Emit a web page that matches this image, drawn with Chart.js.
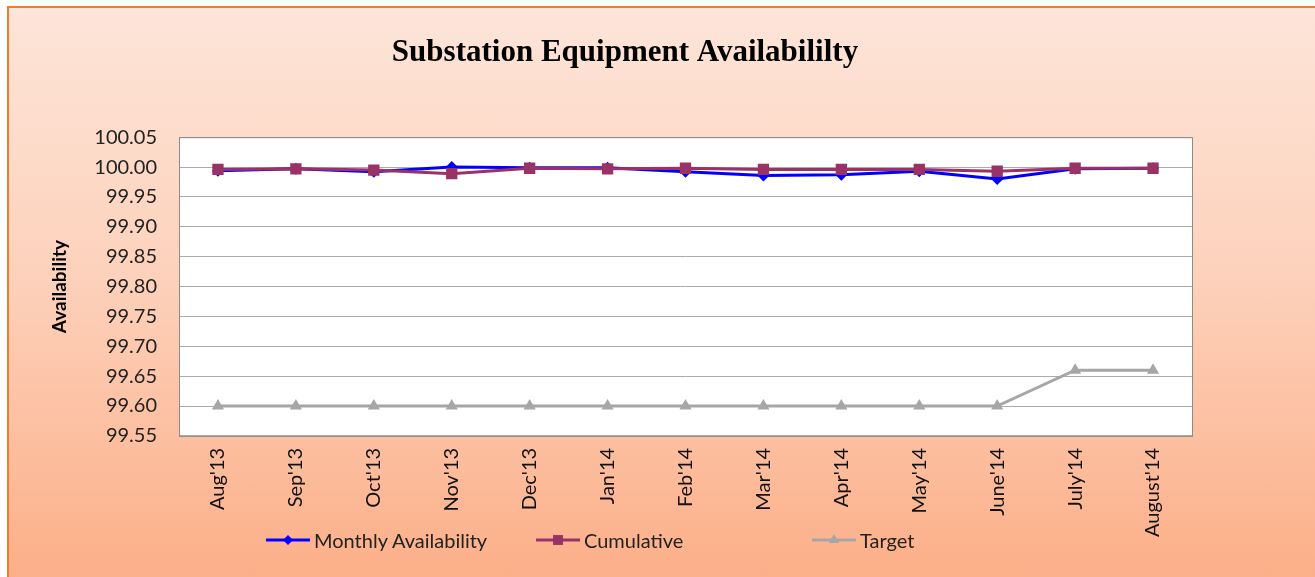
<!DOCTYPE html>
<html lang="en">
<head>
<meta charset="UTF-8">
<title>Substation Equipment Availability</title>
<script src="https://cdn.jsdelivr.net/npm/chart.js"></script>
<style>
  body { margin: 0; background: #fff; overflow: hidden; }
  #frame {
    position: absolute; left: 7px; top: 6px; width: 1320px; height: 580px;
    border-top: 2px solid #ED7D31; border-left: 2px solid #ED7D31;
    background: linear-gradient(to bottom, #FDE5D9 0%, #FDD2BC 45%, #FCAE87 100%);
  }
  #chart { position: absolute; left: 0; top: 0; }
  #legend {
    position: absolute; left: 266px; top: 528px; height: 24px;
    display: flex; align-items: center;
    font-family: Lato, sans-serif; font-size: 20px; color: #222;
  }
  #legend .item { display: flex; align-items: center; }
  #legend canvas { display: block; margin-right: 4px; }
</style>
</head>
<body>
<div id="frame"></div>
<canvas id="chart" width="1315" height="577"></canvas>
<div id="legend"></div>

<script>
const months = ["Aug'13", "Sep'13", "Oct'13", "Nov'13", "Dec'13", "Jan'14", "Feb'14",
                "Mar'14", "Apr'14", "May'14", "June'14", "July'14", "August'14"];
const monthlyAvailability = [99.994, 99.997, 99.992, 100.000, 99.999, 99.999, 99.992,
                             99.986, 99.987, 99.993, 99.980, 99.997, 99.998];
const cumulative = [99.996, 99.997, 99.995, 99.989, 99.998, 99.997, 99.998,
                    99.996, 99.996, 99.996, 99.993, 99.998, 99.998];
const target = [99.60, 99.60, 99.60, 99.60, 99.60, 99.60, 99.60,
                99.60, 99.60, 99.60, 99.60, 99.66, 99.66];
const yTicks = [99.55, 99.60, 99.65, 99.70, 99.75, 99.80, 99.85, 99.90, 99.95, 100.00, 100.05];

const tickFont = { family: 'Lato', size: 20 };

// white plot area, grey frame, and nudge the title to where Excel put it
const plotFrame = {
  id: 'plotFrame',
  afterLayout(chart) {
    const t = chart.titleBlock;
    if (t) {
      const dx = 625 - (t.left + t.right) / 2;
      t.left += dx;
      t.right += dx;
    }
  },
  beforeDraw(chart) {
    const { ctx, chartArea: a } = chart;
    ctx.save();
    ctx.fillStyle = '#fff';
    ctx.fillRect(a.left, a.top, a.width, a.height);
    ctx.restore();
  },
  beforeDatasetsDraw(chart) {
    const { ctx, chartArea: a } = chart;
    ctx.save();
    ctx.strokeStyle = '#8c8c8c';
    ctx.lineWidth = 1;
    ctx.strokeRect(a.left + 0.5, a.top + 0.5, a.width, a.height);
    ctx.restore();
  }
};

const chart = new Chart(document.getElementById('chart'), {
  type: 'line',
  data: {
    labels: months,
    datasets: [{
      label: 'Monthly Availability',
      data: monthlyAvailability,
      borderColor: '#0000FF',
      backgroundColor: '#0000FF',
      pointBackgroundColor: '#0000FF',
      borderWidth: 3,
      pointStyle: 'rectRot',
      pointRadius: 6,
      pointBorderWidth: 0,
      order: 1
    }, {
      label: 'Cumulative',
      data: cumulative,
      borderColor: '#993366',
      backgroundColor: '#993366',
      pointBackgroundColor: '#993366',
      borderWidth: 3,
      pointStyle: 'rect',
      pointRadius: 8,
      pointBorderWidth: 0,
      order: 0
    }, {
      label: 'Target',
      data: target,
      borderColor: '#A6A6A6',
      backgroundColor: '#A6A6A6',
      pointBackgroundColor: '#A6A6A6',
      borderWidth: 3,
      pointStyle: 'triangle',
      pointRadius: 7,
      pointBorderWidth: 0,
      order: 2
    }]
  },
  options: {
    responsive: false,
    animation: false,
    layout: { padding: { left: 8, right: 123, top: 0, bottom: 28 } },
    plugins: {
      legend: { display: false },
      tooltip: { enabled: false },
      title: {
        display: true,
        text: 'Substation Equipment Availabililty',
        color: '#000',
        font: { family: 'Liberation Serif', size: 31, weight: 'bold' },
        padding: { top: 34, bottom: 66 }
      }
    },
    scales: {
      x: {
        offset: true,
        grid: { display: false, drawTicks: false },
        border: { display: false },
        ticks: {
          autoSkip: false, minRotation: 90, maxRotation: 90,
          padding: 12, color: '#111', font: { family: 'Lato', size: 20 }
        }
      },
      y: {
        min: 99.55,
        max: 100.05,
        afterBuildTicks: axis => { axis.ticks = yTicks.map(v => ({ value: v })); },
        afterFit: axis => { axis.width = 171; },
        grid: { color: '#ABABAB', drawTicks: false },
        border: { display: false },
        ticks: {
          padding: 22, color: '#222', font: tickFont,
          callback: v => Number(v).toFixed(2)
        },
        title: {
          display: true,
          text: 'Availability',
          color: '#000',
          font: { family: 'Lato', size: 19, weight: 'bold' },
          padding: { top: 40, bottom: 0 }
        }
      }
    }
  },
  plugins: [plotFrame]
});

// legend in fixed slots like the Excel one
const slotWidths = [270, 276, null];
function drawMarker(g, style, r, x, y) {
  g.beginPath();
  if (style === 'rectRot') {
    g.moveTo(x, y - r); g.lineTo(x + r, y); g.lineTo(x, y + r); g.lineTo(x - r, y);
  } else if (style === 'rect') {
    const s = r * Math.SQRT1_2;
    g.rect(x - s, y - s, 2 * s, 2 * s);
  } else {
    const h = r * 1.5;
    g.moveTo(x, y - h * 2 / 3); g.lineTo(x + r * 0.87, y + h / 3); g.lineTo(x - r * 0.87, y + h / 3);
  }
  g.closePath();
  g.fill();
}
const legendEl = document.getElementById('legend');
chart.data.datasets.forEach((ds, i) => {
  const item = document.createElement('div');
  item.className = 'item';
  if (slotWidths[i]) item.style.width = slotWidths[i] + 'px';
  const c = document.createElement('canvas');
  c.width = 44; c.height = 18;
  const g = c.getContext('2d');
  g.strokeStyle = ds.borderColor;
  g.lineWidth = 3;
  g.beginPath(); g.moveTo(0, 9); g.lineTo(44, 9); g.stroke();
  g.fillStyle = ds.pointBackgroundColor;
  drawMarker(g, ds.pointStyle, ds.pointRadius - 1, 22, 9);
  const span = document.createElement('span');
  span.textContent = ds.label;
  item.appendChild(c);
  item.appendChild(span);
  legendEl.appendChild(item);
});
</script>
</body>
</html>
